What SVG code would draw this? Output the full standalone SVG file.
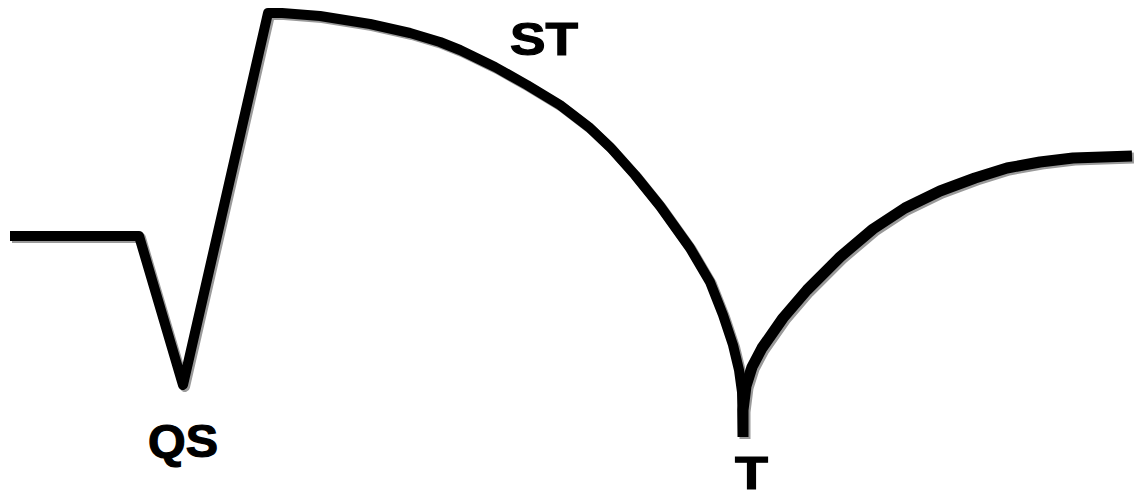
<svg xmlns="http://www.w3.org/2000/svg" width="1134" height="496" viewBox="0 0 1134 496">
<style>
.w{fill:none;stroke-linejoin:round;stroke-linecap:butt}
.a{stroke-width:10}
.b{stroke-width:11}
.sh{stroke:#9a9a9a}
.ln{stroke:#000}
.lbl{font-family:"Liberation Sans",Arial,sans-serif;font-weight:bold;font-size:46px;fill:#000;stroke:#000;stroke-width:1.2}
</style>
<defs>
<path id="wave1" d="M10,236 L139,236 L183,385 L268,13 L282,13 L320,16 L370,24 L410,33 L440,42 L460,50 L495,67 L527,85 L560,105 L590,128 L610,147 L635,175 L660,206 L690,248 L710,282 L723,315 L733,345 L739,370 L742,392 L743,437"/>
<path id="wave2" d="M743,437 L743,410 L746,386 L752,367 L762,348 L783,318 L807,290 L840,257 L873,229 L905,208 L940,191 L975,178 L1007,168 L1040,162 L1073,158 L1132,156"/>
</defs>
<g id="connectors">
<use href="#wave1" class="w a sh" transform="translate(2,2)"/>
<use href="#wave2" class="w b sh" transform="translate(2,2)"/>
<use href="#wave1" class="w a ln"/>
<use href="#wave2" class="w b ln"/>
</g>
<g id="label-qs"><text class="lbl" x="148" y="457" textLength="70" lengthAdjust="spacingAndGlyphs">QS</text></g>
<g id="label-st"><text class="lbl" x="510" y="55" textLength="68" lengthAdjust="spacingAndGlyphs">ST</text></g>
<g id="label-t"><text class="lbl" x="735" y="489" textLength="33" lengthAdjust="spacingAndGlyphs">T</text></g>
</svg>
